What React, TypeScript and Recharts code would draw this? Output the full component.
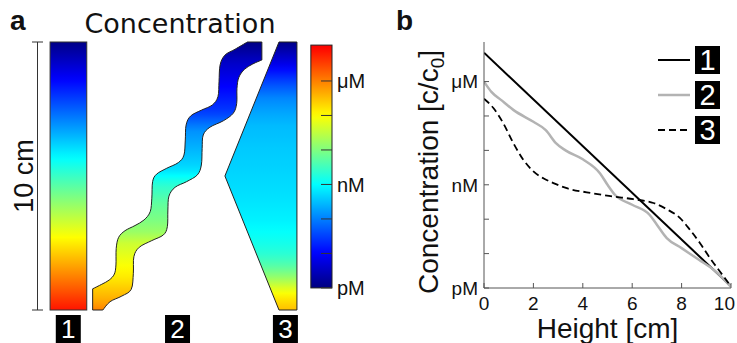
import React from 'react';
import { ComposedChart, LineChart, Line, XAxis, YAxis, ReferenceArea, Legend } from 'recharts';

type Pt = [number, number];

const SANS = '"Liberation Sans", Arial, sans-serif';
const TITLE_FONT = '"DejaVu Sans", sans-serif';
const FRAME = '#555';
const INK = '#111';

// Concentration profiles, in decades above 1 pM, against height in cm
const HEIGHT_1 = [0, 10];
const CONC_1 = [6.84, 0.05];
const HEIGHT_2 = [0, 0.3, 0.7, 1.2, 2.0, 2.5, 2.9, 3.3, 4.0, 4.7, 5.0, 5.3, 6.0, 6.7, 7.0, 7.4, 8.0, 8.7, 9.3, 10];
const CONC_2 = [6.0, 5.7, 5.46, 5.17, 4.83, 4.59, 4.22, 4.0, 3.74, 3.33, 3.0, 2.71, 2.42, 2.13, 1.84, 1.45, 1.16, 0.82, 0.53, 0.03];
const HEIGHT_3 = [0, 0.38, 0.78, 1.19, 1.59, 2.0, 2.4, 2.81, 3.35, 4.16, 5.24, 6.05, 6.86, 7.4, 7.94, 8.34, 8.74, 9.15, 9.55, 10];
const CONC_3 = [5.5, 5.23, 4.79, 4.21, 3.73, 3.39, 3.19, 3.05, 2.9, 2.78, 2.66, 2.58, 2.47, 2.29, 2.03, 1.69, 1.31, 0.87, 0.48, 0.05];
const SERIES_NAMES = ['1', '2', '3'];

const HEIGHT_TICKS = [0, 2, 4, 6, 8, 10];
const HEIGHT_INNER_TICKS = [2, 4, 6, 8];
const DECADE_TICKS = [0, 1, 2, 3, 4, 5, 6];
const UNIT_LABELS: Record<number, string> = { 0: 'pM', 3: 'nM', 6: 'μM' };
const DECADE_DOMAIN = [0, 7.15];

// Chamber outlines for panel a (x and height in cm)
const BAR_X = [0.47, 1.84];
const CHANNEL_LEFT: Pt[] = [
  [2.06, 0], [2.06, 0.79], [2.4, 0.96], [2.68, 1.12], [2.87, 1.34], [2.93, 1.68], [2.94, 2.3],
  [3.03, 2.71], [3.27, 2.96], [3.64, 3.15], [3.98, 3.36], [4.21, 3.67], [4.27, 4.17], [4.3, 4.79],
  [4.45, 5.07], [4.83, 5.29], [5.26, 5.5], [5.47, 5.78], [5.52, 6.34], [5.55, 6.9], [5.72, 7.24],
  [6.13, 7.46], [6.53, 7.65], [6.74, 7.96], [6.78, 8.52], [6.82, 9.14], [7.0, 9.51], [7.38, 9.73],
  [7.84, 10],
];
const CHANNEL_RIGHT: Pt[] = [
  [8.38, 10], [8.38, 9.33], [8.04, 9.18], [7.73, 8.98], [7.52, 8.68], [7.45, 8.27], [7.44, 7.71],
  [7.31, 7.34], [6.94, 7.06], [6.44, 6.82], [6.19, 6.53], [6.15, 6.03], [6.12, 5.41], [5.97, 5.04],
  [5.57, 4.79], [5.14, 4.58], [4.91, 4.25], [4.87, 3.73], [4.85, 3.11], [4.7, 2.8], [4.27, 2.59],
  [3.8, 2.34], [3.6, 1.99], [3.58, 1.37], [3.5, 0.77], [3.15, 0.52], [2.71, 0.31], [2.44, 0],
];
const WEDGE: Pt[] = [[9.02, 10], [9.69, 10], [9.69, 0], [9.02, 0], [7.0, 5.0]];
const CHAMBER_TAG_X = [1.15, 5.23, 9.26];
const COLORBAR_X = [10.21, 11];
const COLORBAR_TOP = 7.04;
const CONC_AXIS_DOMAIN = [-0.64, 7.13];

const SERIES = [
  { name: SERIES_NAMES[0], h: HEIGHT_1, c: CONC_1, color: '#000', width: 2, dash: undefined as string | undefined, curve: 'linear' as const },
  { name: SERIES_NAMES[1], h: HEIGHT_2, c: CONC_2, color: '#b3b3b3', width: 2.5, dash: undefined, curve: 'monotone' as const },
  { name: SERIES_NAMES[2], h: HEIGHT_3, c: CONC_3, color: '#000', width: 1.8, dash: '7 4', curve: 'monotone' as const },
];

// one row per chamber, placed at its tag position along x
const chamberRows = CHAMBER_TAG_X.map((x, i) => ({ x, tag: SERIES_NAMES[i] }));

const clamp = (v: number) => Math.max(0, Math.min(1, v));
function jet(t: number) {
  const r = clamp(1.5 - Math.abs(4 * t - 3));
  const g = clamp(1.5 - Math.abs(4 * t - 2));
  const b = clamp(1.5 - Math.abs(4 * t - 1));
  return `rgb(${Math.round(r * 255)},${Math.round(g * 255)},${Math.round(b * 255)})`;
}
const colorOf = (decades: number) => jet(decades / 8);

function valueAt(xs: number[], ys: number[], x: number) {
  for (let i = 0; i < xs.length - 1; i++) {
    if (x <= xs[i + 1]) {
      const f = (x - xs[i]) / (xs[i + 1] - xs[i]);
      return ys[i] + f * (ys[i + 1] - ys[i]);
    }
  }
  return ys[ys.length - 1];
}

// vertical fill: bottom of the shape is height 0, top is height 10
function HeightGradient({ id, h, c }: { id: string; h: number[]; c: number[] }) {
  const n = 48;
  return (
    <linearGradient id={id} x1="0" y1="1" x2="0" y2="0">
      {Array.from({ length: n + 1 }, (_, i) => (
        <stop key={i} offset={i / n} stopColor={colorOf(valueAt(h, c, (10 * i) / n))} />
      ))}
    </linearGradient>
  );
}

const boundsOf = (pts: Pt[]) => ({
  x1: Math.min(...pts.map((p) => p[0])),
  x2: Math.max(...pts.map((p) => p[0])),
  y1: Math.min(...pts.map((p) => p[1])),
  y2: Math.max(...pts.map((p) => p[1])),
});

type Box = ReturnType<typeof boundsOf>;
const toPixels = (b: Box, r: any) => (p: Pt): Pt => [
  r.x + ((p[0] - b.x1) / (b.x2 - b.x1)) * r.width,
  r.y + ((b.y2 - p[1]) / (b.y2 - b.y1)) * r.height,
];

const xy = (p: Pt) => `${p[0].toFixed(2)},${p[1].toFixed(2)}`;

// Catmull-Rom through the points, as cubic segments
function smooth(pts: Pt[]) {
  let d = '';
  for (let i = 0; i < pts.length - 1; i++) {
    const p0 = pts[Math.max(0, i - 1)];
    const p1 = pts[i];
    const p2 = pts[i + 1];
    const p3 = pts[Math.min(pts.length - 1, i + 2)];
    const c1: Pt = [p1[0] + (p2[0] - p0[0]) / 6, p1[1] + (p2[1] - p0[1]) / 6];
    const c2: Pt = [p2[0] - (p3[0] - p1[0]) / 6, p2[1] - (p3[1] - p1[1]) / 6];
    d += ` C ${xy(c1)} ${xy(c2)} ${xy(p2)}`;
  }
  return d;
}

const BAR_BOX: Box = { x1: BAR_X[0], x2: BAR_X[1], y1: 0, y2: 10 };
const CHANNEL_BOX = boundsOf([...CHANNEL_LEFT, ...CHANNEL_RIGHT]);
const WEDGE_BOX = boundsOf(WEDGE);

const BarShape = (r: any) => (
  <g>
    <defs><HeightGradient id="fill-1" h={HEIGHT_1} c={CONC_1} /></defs>
    <rect x={r.x} y={r.y} width={r.width} height={r.height} fill="url(#fill-1)" stroke="#333" strokeWidth={1} />
  </g>
);

const ChannelShape = (r: any) => {
  const px = toPixels(CHANNEL_BOX, r);
  const L = CHANNEL_LEFT.map(px);
  const R = CHANNEL_RIGHT.map(px);
  const d = `M ${xy(L[0])} L ${xy(L[1])}${smooth(L.slice(1))} L ${xy(R[0])} L ${xy(R[1])}${smooth(R.slice(1))} Z`;
  return (
    <g>
      <defs><HeightGradient id="fill-2" h={HEIGHT_2} c={CONC_2} /></defs>
      <path d={d} fill="url(#fill-2)" stroke="#222" strokeWidth={1} />
    </g>
  );
};

const WedgeShape = (r: any) => {
  const px = toPixels(WEDGE_BOX, r);
  const d = 'M ' + WEDGE.map((p) => xy(px(p))).join(' L ') + ' Z';
  return (
    <g>
      <defs><HeightGradient id="fill-3" h={HEIGHT_3} c={CONC_3} /></defs>
      <path d={d} fill="url(#fill-3)" stroke="#222" strokeWidth={1} />
    </g>
  );
};

const ColorbarShape = (r: any) => {
  const n = 40;
  return (
    <g>
      <defs>
        <linearGradient id="colorbar" x1="0" y1="1" x2="0" y2="0">
          {Array.from({ length: n + 1 }, (_, i) => (
            <stop key={i} offset={i / n} stopColor={colorOf((COLORBAR_TOP * i) / n)} />
          ))}
        </linearGradient>
      </defs>
      <rect x={r.x} y={r.y} width={r.width} height={r.height} fill="url(#colorbar)" stroke="#222" strokeWidth={1} />
    </g>
  );
};

const ScaleCap = ({ x, y }: any) => <line x1={x - 5.5} x2={x + 5.5} y1={y} y2={y} stroke="#333" strokeWidth={1} />;

function ScaleTitle(props: any) {
  const vb = props.viewBox ?? { x: 0, y: 42, width: 37.5, height: 268 };
  const x = vb.x + 33;
  const y = vb.y + vb.height / 2;
  return (
    <text x={x} y={y} transform={`rotate(-90 ${x} ${y})`} textAnchor="middle" fontSize={27} fontFamily={SANS} fill={INK}>
      10 cm
    </text>
  );
}

const ChamberTag = ({ x, y, index }: any) => (
  <g>
    <rect x={x - 12.5} y={y + 5} width={25} height={28} fill="#000" />
    <text x={x} y={y + 27.5} textAnchor="middle" fontSize={26} fontFamily={SANS} fill="#fff">
      {chamberRows[index]?.tag}
    </text>
  </g>
);

function ChamberPanel() {
  return (
    <ComposedChart width={400} height={343} data={chamberRows} margin={{ top: 42, right: 8, bottom: 0, left: 0 }}>
      <XAxis xAxisId="x" dataKey="x" type="number" domain={[0, 11]} ticks={CHAMBER_TAG_X} interval={0} height={33}
        axisLine={false} tickLine={false} tickSize={0} tickMargin={0} tick={<ChamberTag />} allowDataOverflow />
      <YAxis yAxisId="cm" type="number" domain={[0, 10]} ticks={[0, 10]} interval={0} width={37.5}
        axisLine={{ stroke: '#333' }} tickLine={false} tickSize={0} tickMargin={0} tick={<ScaleCap />}
        label={<ScaleTitle />} allowDataOverflow />
      <YAxis yAxisId="conc" orientation="right" type="number" domain={CONC_AXIS_DOMAIN} ticks={DECADE_TICKS}
        interval={0} width={60} axisLine={false} tickSize={-11} tickMargin={16} tickLine={{ stroke: '#333' }}
        tickFormatter={(v: number) => UNIT_LABELS[v] ?? ''}
        tick={{ fontSize: 20, fill: INK, fontFamily: SANS, textAnchor: 'start' }} allowDataOverflow />
      <ReferenceArea xAxisId="x" yAxisId="cm" {...BAR_BOX} shape={BarShape} ifOverflow="visible" />
      <ReferenceArea xAxisId="x" yAxisId="cm" {...CHANNEL_BOX} shape={ChannelShape} ifOverflow="visible" />
      <ReferenceArea xAxisId="x" yAxisId="cm" {...WEDGE_BOX} shape={WedgeShape} ifOverflow="visible" />
      <ReferenceArea xAxisId="x" yAxisId="conc" x1={COLORBAR_X[0]} x2={COLORBAR_X[1]} y1={0} y2={COLORBAR_TOP} shape={ColorbarShape} ifOverflow="visible" />
    </ComposedChart>
  );
}

function HeightTick({ x, y, payload }: any) {
  const last = payload.value === HEIGHT_TICKS[HEIGHT_TICKS.length - 1];
  return (
    <text x={last ? x + 4 : x} y={y} dy="0.71em" textAnchor={last ? 'end' : 'middle'} fontSize={19} fontFamily={SANS} fill={INK}>
      {payload.value}
    </text>
  );
}

function HeightTitle(props: any) {
  const vb = props.viewBox ?? { x: 84, y: 288, width: 247, height: 55 };
  return (
    <text x={vb.x + vb.width / 2} y={vb.y + 50} textAnchor="middle" fontSize={28} fontFamily={SANS} fill={INK}>
      Height [cm]
    </text>
  );
}

function ConcTitle(props: any) {
  const vb = props.viewBox ?? { x: 0, y: 42, width: 84, height: 246 };
  const x = vb.x + 38;
  const y = vb.y + vb.height / 2 + 7;
  return (
    <text x={x} y={y} transform={`rotate(-90 ${x} ${y})`} textAnchor="middle" fontSize={28} fontFamily={SANS} fill={INK}>
      Concentration [c/c<tspan fontSize={19} dy={6}>0</tspan><tspan dy={-6}>]</tspan>
    </text>
  );
}

const renderLegend = () => (
  <div style={{ display: 'flex', flexDirection: 'column', gap: 7 }}>
    {SERIES.map((s) => (
      <div key={s.name} style={{ display: 'flex', alignItems: 'center', height: 28 }}>
        <svg width={32} height={6} style={{ display: 'block' }}>
          <line x1={0} x2={32} y1={3} y2={3} stroke={s.color} strokeWidth={s.width} strokeDasharray={s.dash} />
        </svg>
        <div style={{ marginLeft: 5, width: 25, height: 28, background: '#000', color: '#fff', fontFamily: SANS, fontSize: 29, lineHeight: '29px', textAlign: 'center' }}>
          {s.name}
        </div>
      </div>
    ))}
  </div>
);

function ProfilePanel() {
  return (
    <LineChart width={337} height={343} margin={{ top: 42, right: 6, bottom: 0, left: 0 }}>
      <XAxis dataKey="h" type="number" domain={[0, 10]} ticks={HEIGHT_TICKS} interval={0} height={55}
        tickSize={-5} tickMargin={13.5} axisLine={{ stroke: FRAME }} tickLine={{ stroke: FRAME }}
        tick={<HeightTick />} label={<HeightTitle />} allowDataOverflow />
      <XAxis xAxisId="top" orientation="top" type="number" domain={[0, 10]} ticks={HEIGHT_INNER_TICKS} interval={0}
        height={0} tickSize={-5} tick={false} axisLine={{ stroke: FRAME }} tickLine={{ stroke: FRAME }} allowDataOverflow />
      <YAxis type="number" domain={DECADE_DOMAIN} ticks={DECADE_TICKS} interval={0} width={84}
        tickSize={-5} tickMargin={11} axisLine={{ stroke: FRAME }} tickLine={{ stroke: FRAME }}
        tickFormatter={(v: number) => UNIT_LABELS[v] ?? ''}
        tick={{ fontSize: 19, fill: INK, fontFamily: SANS }} label={<ConcTitle />} allowDataOverflow />
      <YAxis yAxisId="right" orientation="right" type="number" domain={DECADE_DOMAIN} ticks={DECADE_TICKS} interval={0}
        width={0} tickSize={-5} tick={false} axisLine={{ stroke: FRAME }} tickLine={{ stroke: FRAME }} allowDataOverflow />
      <Legend layout="vertical" align="center" verticalAlign="middle" content={renderLegend}
        wrapperStyle={{ left: 258, top: 46, width: 64, height: 100 }} />
      {SERIES.map((s) => (
        <Line key={s.name} data={s.h.map((h, i) => ({ h, c: s.c[i] }))} dataKey="c" type={s.curve}
          stroke={s.color} strokeWidth={s.width} strokeDasharray={s.dash} dot={false} activeDot={false}
          isAnimationActive={false} />
      ))}
    </LineChart>
  );
}

export default function App() {
  return (
    <div style={{ position: 'absolute', left: 0, top: 0, width: 737, height: 343, background: '#fff', overflow: 'hidden', fontFamily: SANS }}>
      <div style={{ position: 'absolute', left: 0, top: 0 }}>
        <ChamberPanel />
      </div>
      <div style={{ position: 'absolute', left: 400, top: 0 }}>
        <ProfilePanel />
      </div>
      <svg width={737} height={343} style={{ position: 'absolute', left: 0, top: 0, pointerEvents: 'none' }}>
        <text x={10} y={30} fontSize={28} fontWeight="bold" fontFamily={SANS} fill={INK}>a</text>
        <text x={180} y={33} textAnchor="middle" fontSize={27} fontFamily={TITLE_FONT} fill={INK}>Concentration</text>
        <text x={396} y={30} fontSize={28} fontWeight="bold" fontFamily={SANS} fill={INK}>b</text>
      </svg>
    </div>
  );
}
